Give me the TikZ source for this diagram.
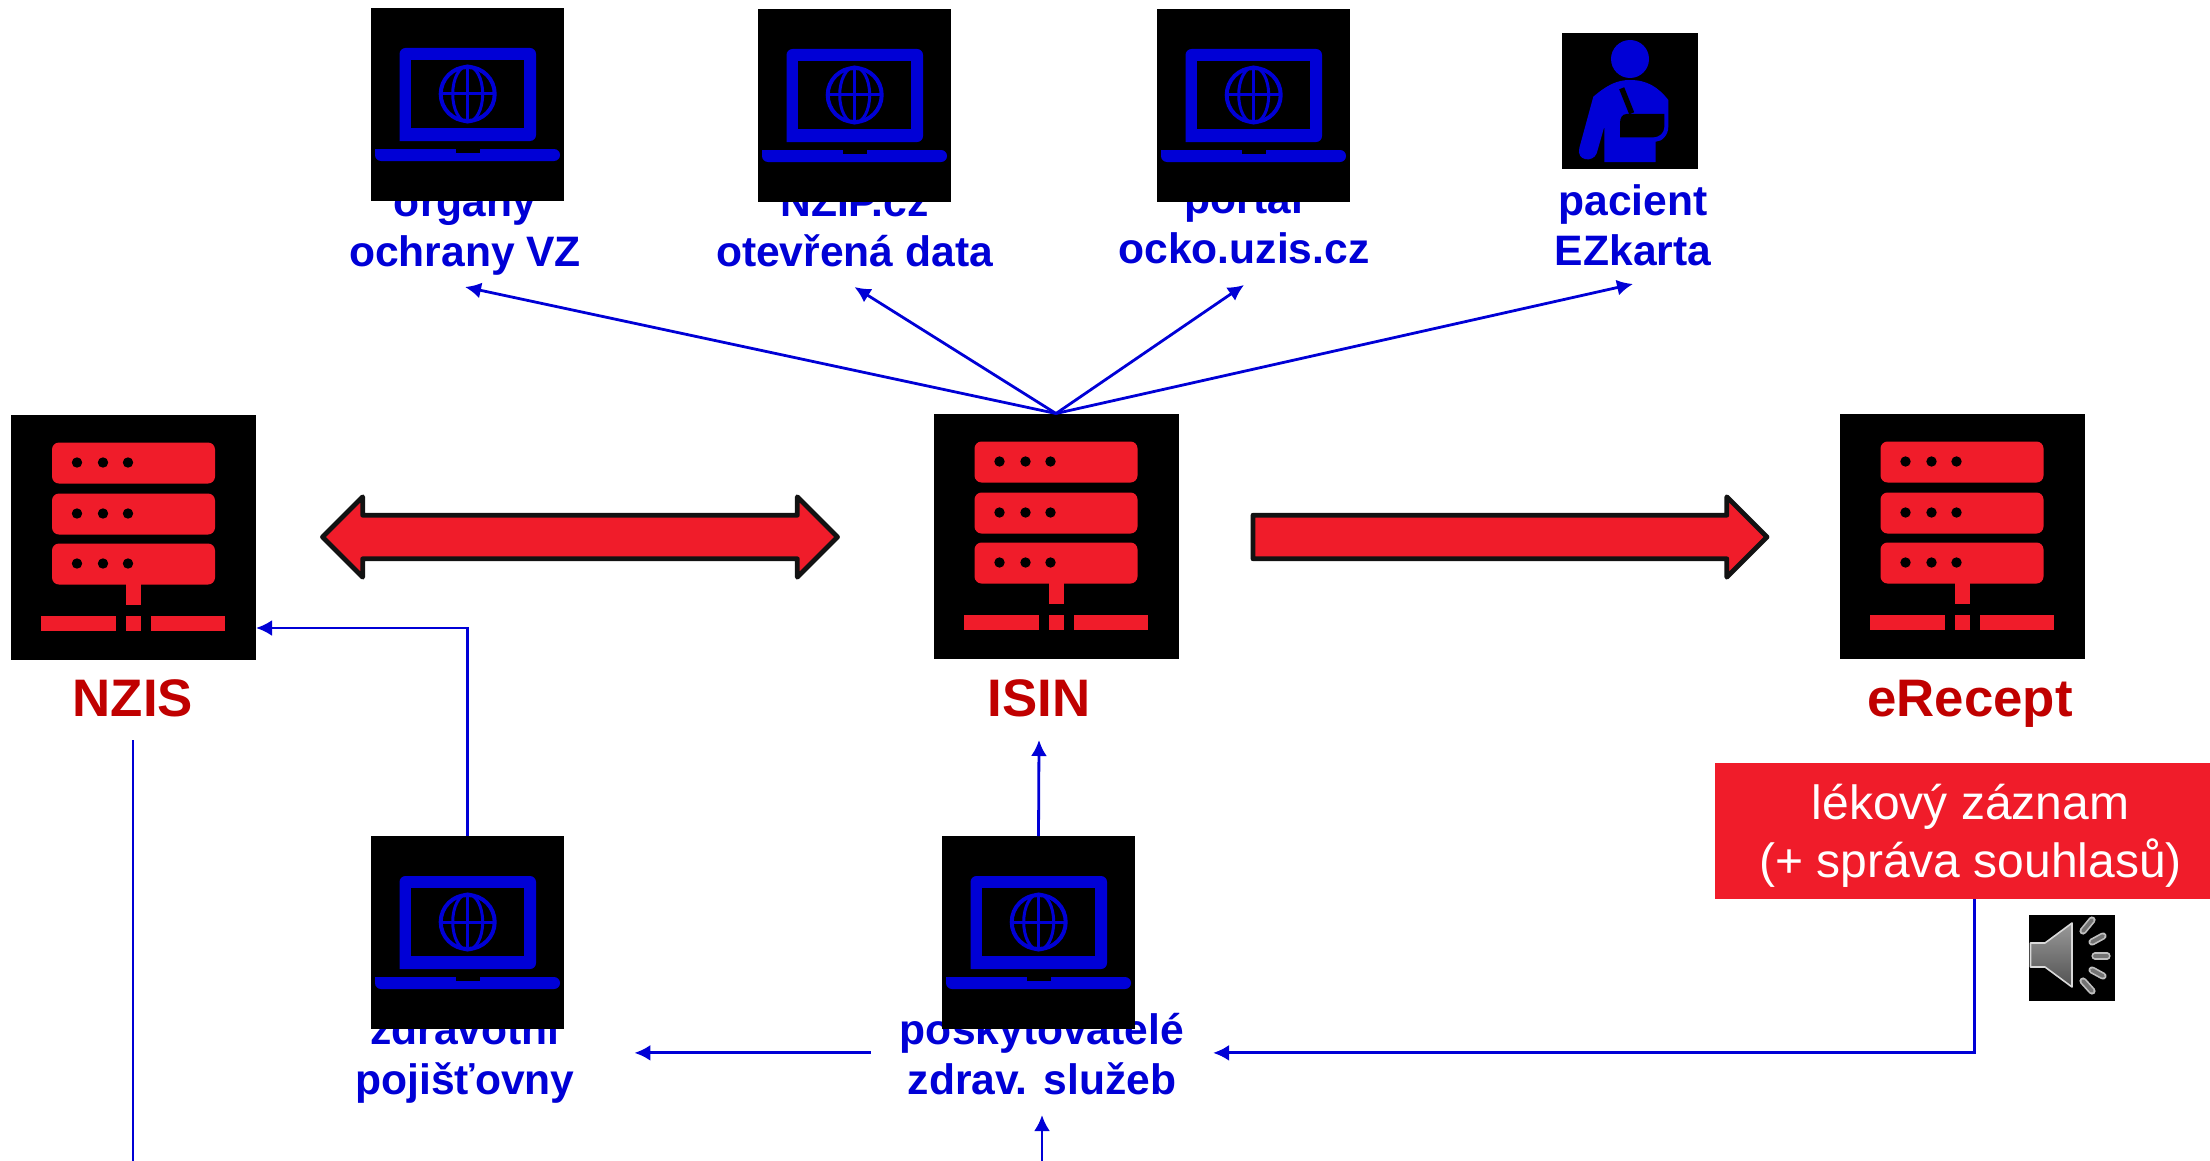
\documentclass[tikz,border=0pt]{standalone}
\usepackage{fontspec}
\setmainfont{Liberation Sans}
\usetikzlibrary{shapes.arrows,arrows.meta}
\definecolor{modra}{RGB}{0,0,214}
\definecolor{cervena}{RGB}{240,28,42}
\definecolor{tmavocervena}{RGB}{192,0,0}
\tikzset{
	blackbox/.style={fill=black, inner sep=0pt, outer sep=0pt},
	bluelabel/.style={text=modra, font=\fontsize{21.3}{25}\selectfont\bfseries, align=center, inner xsep=0pt, inner ysep=3pt, outer sep=0pt, anchor=south},
	redlabel/.style={text=tmavocervena, font=\fontsize{26.4}{30}\selectfont\bfseries, text height=19pt, text depth=0pt, minimum height=43pt, inner sep=0pt, outer sep=0pt},
	bigarrow/.style={draw=black!93, fill=cervena, line width=2.4pt, line join=round, inner xsep=0pt, inner ysep=9.7pt, outer sep=0pt},
	bluearrow/.style={draw=modra, line width=1.4pt, -{Latex[length=8pt,width=8pt]}},
	blueline/.style={draw=modra, line width=1.4pt}
}
% icons are drawn from the top left corner of their box
\def\servericon(#1){\begin{scope}[shift={(#1)}]
	\foreach \rowy in {28,79,129} {
		\fill[cervena, rounded corners=3.5pt] (41, \rowy) rectangle (204, \rowy+41);
		\foreach \dotx in {66,92,117}
			\fill[black] (\dotx, \rowy+20) circle (2.6pt);
	}
	\fill[cervena] (115, 165) rectangle (130, 190);
	\fill[cervena] (30, 201) rectangle (105, 216);
	\fill[cervena] (115, 201) rectangle (130, 216);
	\fill[cervena] (140, 201) rectangle (214, 216);
\end{scope}}
\def\laptopicon(#1){\begin{scope}[shift={(#1)}]
	\fill[modra, rounded corners=3pt] (28.5, 133) -- (28.5, 40) -- (165, 40) -- (165, 133) [sharp corners] -- cycle;
	\fill[black] (40, 52) rectangle (153, 120);
	\draw[modra, line width=2pt] (96.7, 86) circle (13.5pt);
	\draw[modra, line width=1.5pt] (96.7, 86) ellipse (7.5pt and 14pt);
	\draw[modra, line width=1.5pt] (96.7, 58) -- (96.7, 114);
	\draw[modra, line width=1.5pt] (68.7, 86) -- (124.7, 86);
	\fill[modra, rounded corners=3pt] (4, 141) -- (4, 153) -- (189, 153) -- (189, 141) [sharp corners] -- cycle;
	\fill[black] (84.5, 141) rectangle (109, 145);
\end{scope}}
\def\patienticon(#1){\begin{scope}[shift={(#1)}]
	\fill[modra] (68, 26) circle (9.5pt);
	\fill[modra] (31.3, 63.7) .. controls (45, 52) and (55, 47) .. (68, 47) .. controls (85, 47) and (96, 54) .. (106.3, 67)
		-- (106.3, 93.7) .. controls (106.3, 102) and (100, 108.7) .. (93.7, 108.7) -- (93.7, 129) -- (42.3, 129) -- (42.3, 93.7) -- (34.7, 120.3)
		.. controls (31, 130) and (14, 128) .. (17.3, 115) -- cycle;
	\fill[black] (58, 104.3) -- (58, 90.3) .. controls (58, 85) and (60, 81) .. (64.7, 81) -- (102.3, 81) -- (102.3, 93.7) .. controls (102.3, 100) and (97, 104.3) .. (91.3, 104.3) -- cycle;
	\draw[black, line width=2.7pt] (59.7, 55.3) -- (69.7, 80.3);
\end{scope}}
\def\speakericon(#1){\begin{scope}[shift={(#1)}]
	\draw[draw=black!15, line width=0.8pt, line join=round, top color=black!40, bottom color=black!68] (1.5, 28) -- (16, 28) -- (43, 8) -- (43, 72) -- (16, 52) -- (1.5, 52) -- cycle;
	\foreach \xa/\ya/\xb/\yb in {54/16/63/5, 63/27/74/21, 66/41/78/41, 63/55/74/61, 54/66/63/76} {
		\draw[black!25, line width=3.6pt, line cap=round] (\xa, \ya) -- (\xb, \yb);
		\draw[black!55, line width=1.9pt, line cap=round] (\xa, \ya) -- (\xb, \yb);
	}
\end{scope}}

\begin{document}
\begin{tikzpicture}[x=0.5pt, y=-0.5pt]
	\useasboundingbox (0, 0) rectangle (2210, 1161);

	% labels lie under the black boxes
	\node[bluelabel] (organy) at (465, 287) {orgány\\ochrany VZ\strut};
	\node[bluelabel] (nzip) at (854.5, 287) {NZIP.cz\\otevřená data\strut};
	\node[bluelabel, inner ysep=3.5pt] (ocko) at (1244, 285) {portál\\ocko.uzis.cz\strut};
	\node[bluelabel, inner ysep=2pt] (pacient) at (1633, 284) {pacient\\EZkarta\strut};
	\node[bluelabel, inner xsep=29.9pt] (pojistovny) at (465, 1115) {zdravotní\\pojišťovny\strut};
	\node[bluelabel, inner xsep=14.5pt] (poskytovatele) at (1042, 1115) {poskytovatelé\\zdrav. služeb\strut};

	\node[blackbox, minimum size=96.5pt] (organybox) at (467.5, 104.5) {};
	\node[blackbox, minimum size=96.5pt] (nzipbox) at (854.5, 105.5) {};
	\node[blackbox, minimum size=96.5pt] (ockobox) at (1253.5, 105.5) {};
	\node[blackbox, minimum size=68pt] (pacientbox) at (1630, 101) {};
	\node[blackbox, minimum size=96.5pt] (pojistovnybox) at (467.5, 932.5) {};
	\node[blackbox, minimum size=96.5pt] (poskytovatelebox) at (1038.5, 932.5) {};

	\laptopicon(organybox.north west)
	\laptopicon(nzipbox.north west)
	\laptopicon(ockobox.north west)
	\patienticon(pacientbox.north west)
	\laptopicon(pojistovnybox.north west)
	\laptopicon(poskytovatelebox.north west)

	\node[blackbox, minimum size=122.5pt] (nzis) at (133.5, 537) {};
	\node[blackbox, minimum size=122.5pt] (isin) at (1056, 536) {};
	\node[blackbox, minimum size=122.5pt] (erecept) at (1962, 536) {};
	\servericon(nzis.north west)
	\servericon(isin.north west)
	\servericon(erecept.north west)

	\node[redlabel] (nzislabel) at (133, 697) {NZIS};
	\node[redlabel] (isinlabel) at (1039, 697) {ISIN};
	\node[redlabel] (ereceptlabel) at (1970, 697) {eRecept};

	\node[double arrow, bigarrow, minimum height=257.5pt, double arrow head extend=9.2pt] (vymena) at (580, 537) {};
	\node[single arrow, bigarrow, minimum height=257pt, single arrow head extend=9.2pt, anchor=tip] (predani) at (1767, 537) {};

	\node[fill=cervena, text=white, font=\fontsize{24}{29}\selectfont, align=center, minimum width=247.5pt, minimum height=68pt, inner sep=0pt, outer sep=0pt] (zaznam) at (1962.5, 831) {\hspace*{8pt}\rule{0pt}{22pt}lékový záznam\\\hspace*{8pt}(+ správa souhlasů)};

	\node[blackbox, minimum size=43pt] (zvuk) at (2072, 958) {};
	\speakericon(zvuk.north west)

	\coordinate (nzisdole) at (133, 1161);
	\coordinate (poskytovateledole) at (1042, 1161);

	\draw[bluearrow] (isin.north) -- (organy.south);
	\draw[bluearrow] (isin.north) -- (nzip.south);
	\draw[bluearrow] (isin.north) -- (ocko.south);
	\draw[bluearrow] (isin.north) -- (pacient.south);
	\draw[blueline] (nzislabel.south) -- (nzisdole);
	\draw[bluearrow] (pojistovnybox.north) |- ([yshift=-45.5pt]nzis.east);
	\draw[bluearrow] (poskytovatelebox.north) -- (isinlabel.south);
	\draw[bluearrow] ([yshift=4pt]poskytovatele.west) -- ([yshift=4pt]pojistovny.east);
	\draw[bluearrow] ([xshift=6pt]zaznam.south) |- ([yshift=4pt]poskytovatele.east);
	\draw[bluearrow] (poskytovateledole) -- (poskytovatele.south);
\end{tikzpicture}
\end{document}
